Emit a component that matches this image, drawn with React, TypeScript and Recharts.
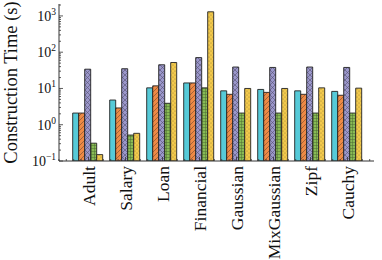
import { Bar, BarChart, XAxis, YAxis } from "recharts";

const categories = ["Adult", "Salary", "Loan", "Financial", "Gaussian", "MixGaussian", "Zipf", "Cauchy"];
const seriesA = [2.1, 4.8, 10.4, 14.2, 8.6, 9.4, 8.6, 8.3];
const seriesB = [2.1, 2.9, 11.8, 14.2, 6.9, 7.8, 6.9, 6.5];
const seriesC = [34, 35, 45, 71, 39, 38, 39, 38];
const seriesD = [0.31, 0.52, 3.9, 10.4, 2.1, 2.1, 2.1, 2.1];
const seriesE = [0.15, 0.58, 52, 1300, 10, 10, 10.4, 10.2];

const yMajorTicks = [0.1, 1, 10, 100, 1000];
const yExponents = ["−1", "0", "1", "2", "3"];

const data = categories.map((name, i) => ({
    name,
    a: seriesA[i],
    b: seriesB[i],
    c: seriesC[i],
    d: seriesD[i],
    e: seriesE[i],
}));

// minor ticks 2..9 per decade
const yTicks: number[] = [];
yMajorTicks.forEach((m) => {
    for (let k = 1; k <= 9; k++) {
        const v = +(m * k).toPrecision(3);
        if (v <= 2000) yTicks.push(v);
    }
});

const FONT = "'Liberation Serif', 'DejaVu Serif', serif";
const AXIS = "#333";
const STEP = 7.4; // px between minor x ticks (0.2 of a category)

const isMajorY = (v: number) => yMajorTicks.includes(v);

const LeftTick = (props: any) => {
    const { x, y, payload } = props;
    const major = isMajorY(payload.value);
    const idx = yMajorTicks.indexOf(payload.value);
    return (
        <g>
            <line x1={x} x2={x + (major ? 4 : 2)} y1={y} y2={y} stroke={AXIS} strokeWidth={0.8} />
            {major && (
                <text x={x - 3} y={y + 5} textAnchor="end" fontFamily={FONT} fontSize={14} fill="#111">
                    10
                    <tspan dy={-6} fontSize={9.5}>
                        {yExponents[idx]}
                    </tspan>
                </text>
            )}
        </g>
    );
};

const RightTick = (props: any) => {
    const { x, y, payload } = props;
    const major = isMajorY(payload.value);
    return <line x1={x} x2={x - (major ? 4 : 2)} y1={y} y2={y} stroke={AXIS} strokeWidth={0.8} />;
};

const minorOffsets = (index: number) => {
    const offs = [-2, -1, 1, 2];
    if (index === 0) offs.push(-4, -3);
    if (index === categories.length - 1) offs.push(3);
    return offs;
};

const XMarks = ({ x, y, index, dir }: { x: number; y: number; index: number; dir: number }) => (
    <g>
        <line x1={x} x2={x} y1={y} y2={y + dir * 4} stroke={AXIS} strokeWidth={0.8} />
        {minorOffsets(index).map((k) => (
            <line key={k} x1={x + k * STEP} x2={x + k * STEP} y1={y} y2={y + dir * 2} stroke={AXIS} strokeWidth={0.8} />
        ))}
    </g>
);

const BottomTick = (props: any) => {
    const { x, y, payload, index } = props;
    return (
        <g>
            <XMarks x={x} y={y} index={index} dir={-1} />
            <text
                x={x}
                y={y + 5}
                transform={`rotate(-90, ${x}, ${y + 5})`}
                textAnchor="end"
                dominantBaseline="central"
                fontFamily={FONT}
                fontSize={17.5}
                fill="#111"
            >
                {payload.value}
            </text>
        </g>
    );
};

const TopTick = (props: any) => {
    const { x, y, index } = props;
    return <XMarks x={x} y={y} index={index} dir={1} />;
};

const Patterns = () => (
    <svg width={0} height={0} style={{ position: "absolute" }}>
        <defs>
            <pattern id="hatch-b" width={5} height={5} patternUnits="userSpaceOnUse">
                <rect width={5} height={5} fill="#EE8A45" />
                <path d="M-1,6 L6,-1 M-1,1 L1,-1 M4,6 L6,4" stroke="#6b4a33" strokeWidth={0.6} />
            </pattern>
            <pattern id="hatch-c" width={5} height={5} patternUnits="userSpaceOnUse">
                <rect width={5} height={5} fill="#9B97CB" />
                <path d="M0,0 L5,5 M0,5 L5,0" stroke="#55536e" strokeWidth={0.6} />
            </pattern>
            <pattern id="hatch-d" width={3} height={3} patternUnits="userSpaceOnUse">
                <rect width={3} height={3} fill="#88BB55" />
                <path d="M1.5,0 L1.5,3 M0,1.5 L3,1.5" stroke="#4d6b33" strokeWidth={0.5} />
            </pattern>
            <pattern id="hatch-e" width={4} height={4} patternUnits="userSpaceOnUse">
                <rect width={4} height={4} fill="#F2C94C" />
                <circle cx={1} cy={1} r={0.5} fill="#8a7230" />
                <circle cx={3} cy={3} r={0.5} fill="#8a7230" />
            </pattern>
        </defs>
    </svg>
);

export default function App() {
    return (
        <div style={{ position: "absolute", left: 0, top: 0, width: 382, height: 260, background: "#fff" }}>
            <Patterns />
            <BarChart
                width={382}
                height={260}
                data={data}
                margin={{ top: 4, right: 8, bottom: 0, left: 0 }}
                barGap={0}
                barCategoryGap={2.7}
            >
                <XAxis
                    xAxisId="cat"
                    dataKey="name"
                    padding={{ left: 11, right: 8 }}
                    interval={0}
                    tick={<BottomTick />}
                    tickSize={0}
                    tickMargin={0}
                    tickLine={false}
                    axisLine={{ stroke: AXIS, strokeWidth: 1 }}
                    height={99}
                />
                <XAxis
                    xAxisId="top"
                    dataKey="name"
                    orientation="top"
                    padding={{ left: 11, right: 8 }}
                    interval={0}
                    tick={<TopTick />}
                    tickSize={0}
                    tickMargin={0}
                    tickLine={false}
                    axisLine={{ stroke: AXIS, strokeWidth: 1 }}
                    height={0}
                />
                <YAxis
                    yAxisId="left"
                    scale="log"
                    type="number"
                    domain={[0.1, 2133]}
                    allowDataOverflow
                    ticks={yTicks}
                    interval={0}
                    tick={<LeftTick />}
                    tickSize={0}
                    tickMargin={0}
                    tickLine={false}
                    axisLine={{ stroke: AXIS, strokeWidth: 1 }}
                    width={59}
                    label={{
                        value: "Construction Time (s)",
                        angle: -90,
                        position: "insideLeft",
                        offset: 0,
                        dx: 10,
                        style: { fontFamily: FONT, fontSize: 18.5, fill: "#111", textAnchor: "middle" },
                    }}
                />
                <YAxis
                    yAxisId="right"
                    orientation="right"
                    scale="log"
                    type="number"
                    domain={[0.1, 2133]}
                    allowDataOverflow
                    ticks={yTicks}
                    interval={0}
                    tick={<RightTick />}
                    tickSize={0}
                    tickMargin={0}
                    tickLine={false}
                    axisLine={{ stroke: AXIS, strokeWidth: 1 }}
                    width={0}
                />
                <Bar xAxisId="cat" yAxisId="left" dataKey="a" fill="#56CAD8" stroke="#222" strokeWidth={0.9} isAnimationActive={false} />
                <Bar xAxisId="cat" yAxisId="left" dataKey="b" fill="url(#hatch-b)" stroke="#222" strokeWidth={0.9} isAnimationActive={false} />
                <Bar xAxisId="cat" yAxisId="left" dataKey="c" fill="url(#hatch-c)" stroke="#222" strokeWidth={0.9} isAnimationActive={false} />
                <Bar xAxisId="cat" yAxisId="left" dataKey="d" fill="url(#hatch-d)" stroke="#222" strokeWidth={0.9} isAnimationActive={false} />
                <Bar xAxisId="cat" yAxisId="left" dataKey="e" fill="url(#hatch-e)" stroke="#222" strokeWidth={0.9} isAnimationActive={false} />
            </BarChart>
        </div>
    );
}
